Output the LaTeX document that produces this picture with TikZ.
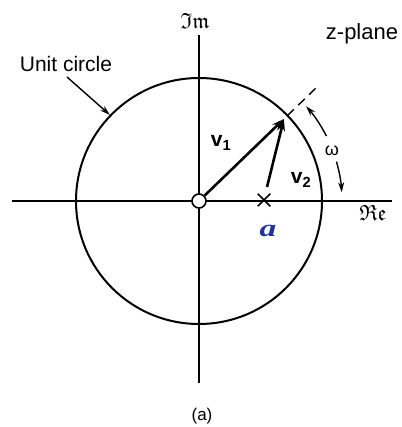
\documentclass[tikz,border=0pt]{standalone}
\usepackage{amssymb}
\usepackage{fontspec}
\setmainfont{Liberation Sans}
\newfontfamily\handfont{Liberation Serif}
\usetikzlibrary{arrows.meta,shapes.misc,calc}
\definecolor{inkblue}{RGB}{30,50,160}
\begin{document}
\begin{tikzpicture}[x=1pt,y=-1pt,
  axis/.style={line width=1.5pt},
  vec/.style={line width=2.6pt,-{Stealth[length=12pt,width=8pt]}},
  lbl/.style={inner sep=0pt,font=\fontsize{21}{24}\selectfont},
  vlbl/.style={inner sep=0pt,font=\fontsize{21}{24}\selectfont\bfseries},
  thinarrow/.style={line width=1.4pt,-{Stealth[length=10pt,width=6pt]}}]
\fill[white] (0,0) rectangle (401,427);
\useasboundingbox (0,0) rectangle (401,427);
\coordinate (O) at (199,201);
% axes
\coordinate (xl) at (12,201);
\coordinate (xr) at (392,201);
\coordinate (yt) at (199,35);
\coordinate (yb) at (199,383);
\draw[axis] (xl) -- (xr);
\draw[axis] (yt) -- (yb);
% unit circle
\draw[line width=2pt] (O) circle[radius=123];
% origin marker
\node[circle,draw,fill=white,line width=1.6pt,minimum size=14pt,inner sep=0pt] (o) at (O) {};
% points
\coordinate (tip) at ($(O)+(-44:118)$);
\coordinate (cp) at ($(O)+(-44:123)$);
\coordinate (dend) at ($(O)+(-44:167)$);
\node[cross out,draw,line width=1.5pt,minimum size=11pt,inner sep=0pt] (pa) at (264,200) {};
\coordinate (pa2) at (267,187);
% dashed extension
\draw[line width=1.4pt,dash pattern=on 9pt off 6pt] (cp) -- (dend);
% vectors
\draw[vec] (o) -- (tip);
\draw[vec] (pa2) -- (tip);
% omega arcs
\draw[thinarrow] ($(O)+(-27:143)$) arc[start angle=-27,end angle=-41.5,radius=143];
\draw[thinarrow] ($(O)+(-16:143)$) arc[start angle=-16,end angle=-3.5,radius=143];
\node[inner sep=0pt,font=\fontsize{18}{20}\selectfont] (om) at (332,151) {ω};
% unit circle label
\node[lbl] (uc) at (66,64) {Unit circle};
\coordinate (ucp) at ($(O)+(-136:124)$);
\draw[thinarrow] (67,77) -- (ucp);
% labels
\node[lbl,font=\fontsize{22}{24}\selectfont] (zp) at (362,34) {z-plane};
\node[vlbl] (v1) at (221,143) {v\textsubscript{1}};
\node[vlbl] (v2) at (301,180) {v\textsubscript{2}};
\node[inner sep=0pt,font=\fontsize{22}{24}\selectfont] (im) at (195,21) {$\mathfrak{Im}$};
\node[inner sep=0pt,font=\fontsize{22}{24}\selectfont] (re) at (373,213) {$\mathfrak{Re}$};
\node[inner sep=0pt,text=inkblue,xscale=1.4,font=\fontsize{24}{26}\handfont\bfseries\itshape] (ah) at (268,231) {a};
\node[inner sep=0pt,font=\fontsize{17}{20}\selectfont] (cap) at (202,416) {(a)};
\end{tikzpicture}
\end{document}
